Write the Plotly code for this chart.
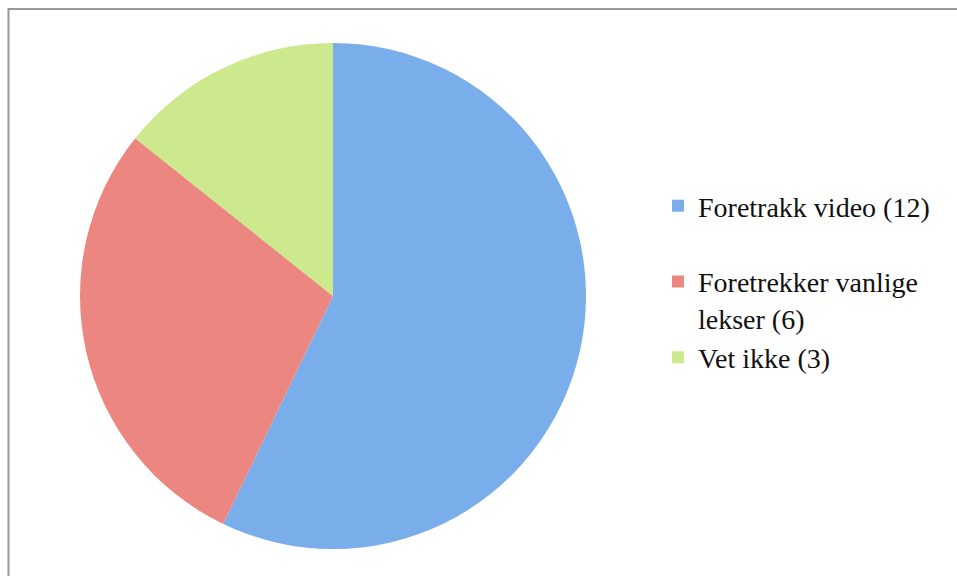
import plotly.graph_objects as go

categories = ["Foretrakk video (12)<br> ", "Foretrekker vanlige<br>lekser (6)", "Vet ikke (3)"]
values = [12, 6, 3]
colors = ["#7aaeeb", "#ec8680", "#cde98e"]

W, H = 957, 576
cx, cy, r = 333, 296, 253

fig = go.Figure(go.Pie(
    labels=categories,
    values=values,
    sort=False,
    direction="clockwise",
    rotation=0,
    textinfo="none",
    hoverinfo="value+percent",
    marker=dict(colors=colors, line=dict(width=0)),
    domain=dict(x=[(cx - r) / W, (cx + r) / W], y=[(H - cy - r) / H, (H - cy + r) / H]),
))

fig.update_layout(
    width=W, height=H,
    margin=dict(l=0, r=0, t=0, b=0),
    paper_bgcolor="white",
    font=dict(family="Liberation Serif, serif", color="#111111"),
    legend=dict(
        x=658 / W, y=1 - 181 / H, xanchor="left", yanchor="top",
        font=dict(size=28, family="Liberation Serif, serif", color="#111111"),
        valign="top",
        bgcolor="rgba(0,0,0,0)",
    ),
    shapes=[dict(type="rect", xref="paper", yref="paper",
                 x0=8.5 / W, x1=1.02, y0=-0.02, y1=(H - 9) / H,
                 line=dict(color="#999999", width=2), fillcolor="rgba(0,0,0,0)", layer="below")],
)

fig.write_html("out.html", config={"displayModeBar": False},
               post_script="document.body.style.margin='0';")
